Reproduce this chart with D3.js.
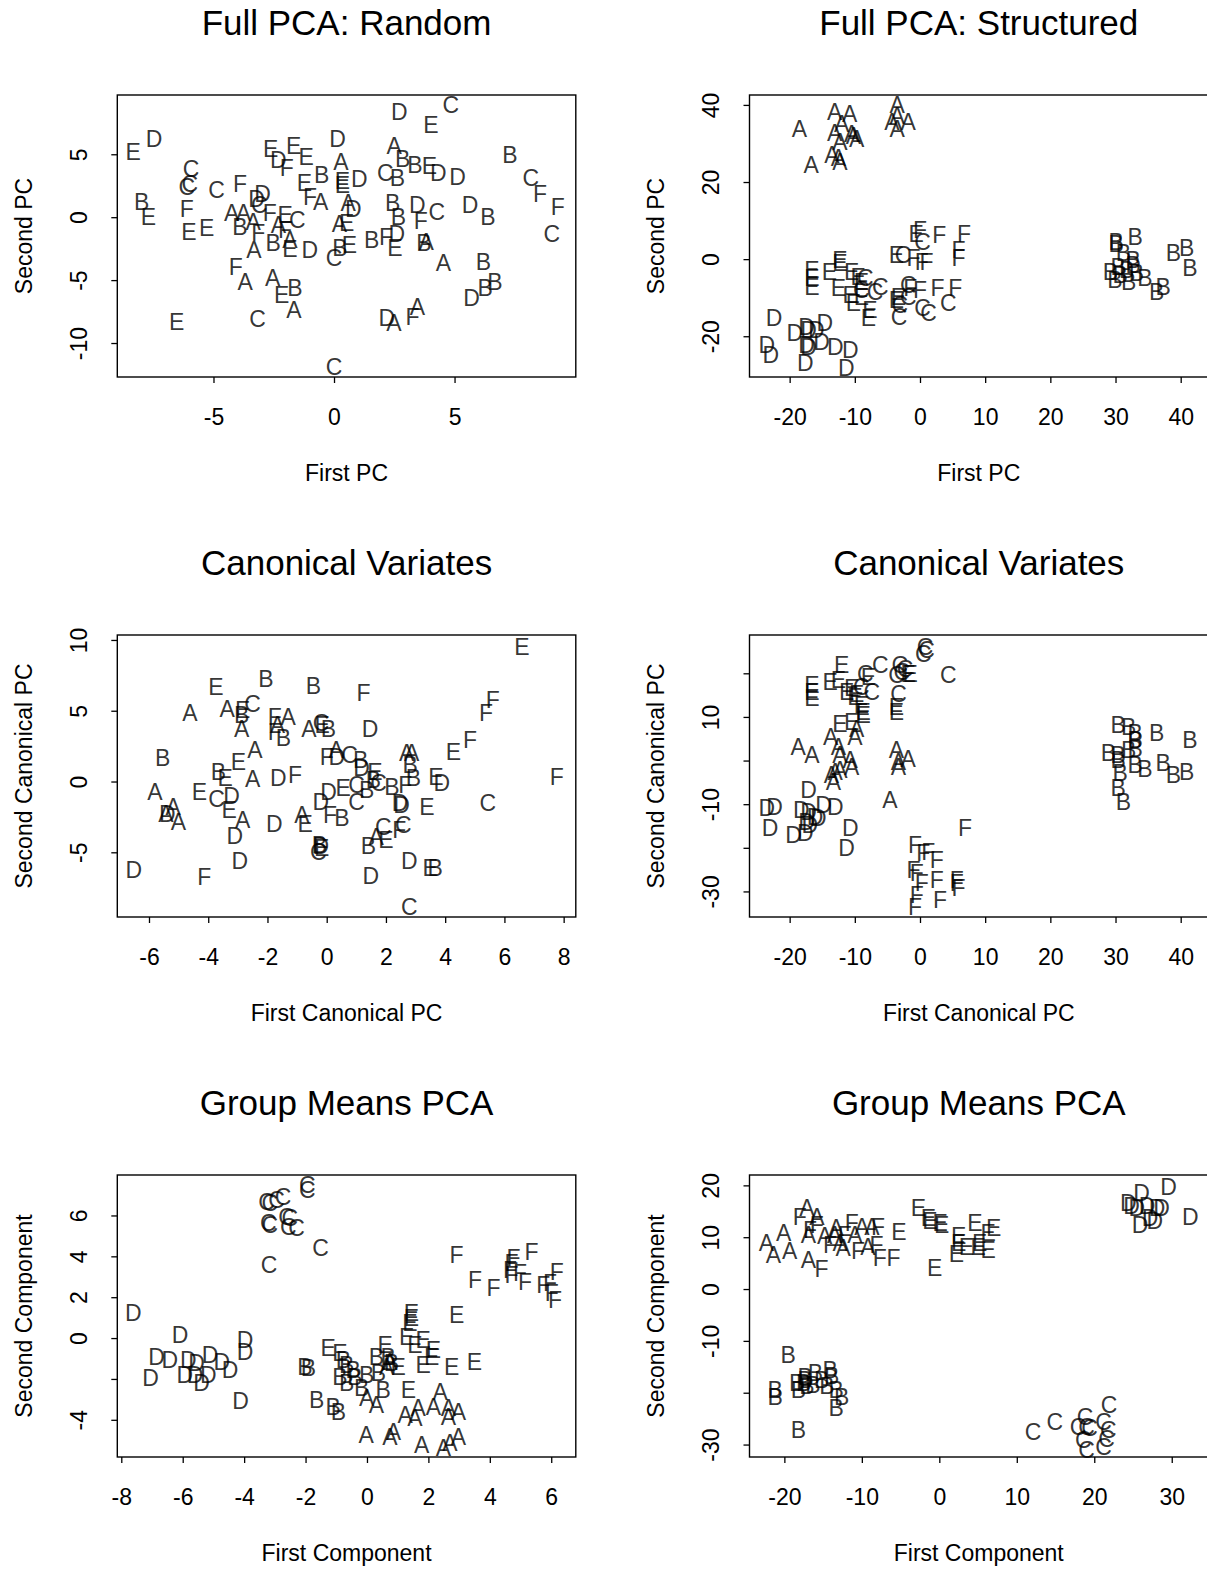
<!DOCTYPE html>
<html><head><meta charset="utf-8">
<script src="https://cdn.jsdelivr.net/npm/d3@7"></script>
<style>
body{margin:0;background:#fff}
svg{display:block}
text{font-family:"Liberation Sans",Arial,Helvetica,sans-serif}
</style>
</head><body>
<svg id="c" width="1207" height="1575"></svg>
<script>
// ---------- DATA (group letter, first axis value, second axis value) ----------
const fullRandom = [
["E",-8.33,5.21],["D",-7.47,6.27],["D",2.71,8.39],["C",4.84,8.92],["E",4.02,7.38],["D",0.15,6.27],
["A",2.50,5.66],["E",-2.63,5.48],["E",-1.67,5.66],["E",-1.16,4.81],["D",-2.31,4.55],["F",-1.96,3.97],
["A",0.29,4.42],["B",-0.51,3.36],["E",-1.23,2.70],["E",0.35,2.90],["E",0.35,2.55],["D",1.05,3.02],
["B",2.85,4.68],["B",3.36,4.15],["E",3.96,4.07],["D",4.33,3.54],["D",5.12,3.23],["C",2.13,3.54],
["B",2.63,3.10],["B",7.30,5.00],["C",8.16,3.10],["F",8.55,1.85],["F",9.28,0.85],["C",9.03,-1.35],
["C",-5.93,3.89],["C",-5.98,2.62],["C",-6.11,2.43],["C",-4.87,2.22],["F",-3.90,2.62],["D",-2.96,1.90],
["D",-3.21,1.50],["C",-3.10,0.98],["F",-1.00,1.64],["A",-0.55,1.24],["A",0.59,1.11],["D",0.80,0.71],
["B",-7.98,1.24],["E",-7.70,0.05],["F",-6.11,0.71],["E",-6.02,-1.14],["E",-5.28,-0.87],["A",-4.25,0.32],
["A",-3.76,0.32],["B",-3.90,-0.74],["A",-3.35,-0.34],["F",-2.66,0.32],["E",-2.03,0.19],["C",-1.52,-0.21],
["A",-2.31,-0.61],["F",-2.03,-1.00],["A",-1.83,-1.80],["E",-1.83,-2.54],["B",-2.52,-2.06],["F",-3.14,-1.27],
["A",-3.32,-2.59],["D",-1.00,-2.59],["A",0.22,-0.48],["E",0.53,-0.42],["C",0.00,-3.20],["B",0.25,-2.46],
["E",0.64,-2.20],["B",1.56,-1.80],["F",2.16,-1.53],["D",2.60,-1.32],["E",2.53,-2.46],["B",2.43,1.11],
["B",2.67,0.05],["D",3.46,0.98],["C",4.26,0.45],["F",3.60,-0.29],["A",3.82,-1.93],["B",3.73,-2.06],
["A",4.54,-3.65],["D",5.64,0.98],["B",6.38,0.05],["B",6.20,-3.57],["B",6.27,-5.63],["B",6.68,-5.16],
["D",5.71,-6.43],["F",-4.07,-3.92],["A",-3.69,-5.16],["A",-2.54,-4.84],["E",-2.17,-6.16],["B",-1.62,-5.63],
["A",-1.66,-7.35],["C",-3.17,-8.10],["E",-6.53,-8.28],["D",2.19,-7.96],["A",2.49,-8.36],["F",3.26,-7.88],
["A",3.46,-7.14],["C",0.00,-11.85]
];
const fullStructured = [
["A",-18.5,33.9],["A",-13.1,38.3],["A",-10.8,37.7],["A",-12.0,35.2],["A",-13.1,32.8],["A",-10.5,32.6],
["A",-9.7,31.3],["A",-12.3,30.5],["A",-13.5,27.0],["A",-12.5,26.2],["A",-12.3,25.3],["A",-16.7,24.4],
["A",-3.5,40.0],["A",-3.5,37.1],["A",-3.5,33.9],["A",-4.3,35.7],["A",-1.8,35.7],["A",-10.2,32.0],
["B",30.1,4.6],["B",30.1,4.0],["B",33.0,5.9],["B",31.2,1.55],["B",38.9,1.55],["B",40.9,2.85],
["B",41.4,-2.3],["B",29.2,-3.2],["B",30.4,-1.9],["B",30.7,-4.1],["B",31.7,-2.8],["B",32.7,-1.5],
["B",33.2,-3.6],["B",32.0,-5.8],["B",34.5,-4.9],["B",32.7,-0.2],["B",29.9,-5.4],["B",36.3,-8.4],["B",37.3,-7.1],
["E",-0.6,6.7],["F",0.0,7.6],["C",0.4,4.6],["F",2.97,6.3],["F",6.75,6.7],["F",5.9,2.4],["F",5.9,0.26],
["E",-3.6,1.1],["C",-2.6,1.1],["F",-1.0,0.26],["F",0.26,-0.6],["F",1.0,-0.6],
["E",-16.6,-2.8],["E",-16.6,-4.9],["E",-16.6,-7.1],["E",-13.9,-3.2],["E",-12.3,-0.2],["E",-12.3,-1.0],
["E",-10.5,-3.2],["E",-9.5,-4.5],["E",-9.0,-5.8],["C",-8.4,-4.9],["C",-6.1,-7.1],["C",-6.9,-8.4],
["E",-12.5,-7.5],["E",-10.7,-9.2],["E",-10.2,-11.4],["E",-9.0,-9.7],["E",-7.7,-13.1],["E",-7.9,-15.3],
["C",-9.0,-7.9],["E",-3.6,-10.5],["E",-3.3,-9.7],["C",-3.1,-11.8],["C",-3.2,-14.9],["C",-1.8,-6.6],
["F",-1.5,-7.5],["F",0.0,-7.9],["C",-1.8,-9.7],["F",2.7,-7.5],["F",5.4,-7.5],["C",0.4,-12.7],
["C",1.3,-14.0],["C",4.35,-11.4],
["D",-22.4,-15.3],["D",-23.5,-22.2],["D",-22.9,-24.8],["D",-19.2,-19.2],["D",-17.4,-17.4],["D",-17.1,-18.3],
["D",-17.4,-22.2],["D",-17.1,-22.6],["D",-15.9,-18.3],["D",-14.6,-16.6],["D",-15.1,-21.3],["D",-13.0,-22.6],
["D",-10.7,-23.5],["D",-17.6,-26.9],["D",-11.3,-28.2]
];
const canonRandom = [
["E",6.59,9.53],["E",-3.74,6.71],["B",-2.05,7.29],["B",-0.45,6.78],["F",1.24,6.24],["F",5.61,5.76],
["F",5.38,4.89],["A",-4.62,4.89],["A",-3.36,5.13],["B",-2.87,4.75],["C",-2.50,5.53],["E",-2.84,5.06],
["A",-2.87,3.76],["F",-1.75,4.59],["A",-1.30,4.59],["A",-1.66,4.00],["F",-1.75,3.53],["B",-1.46,3.06],
["A",-0.60,3.76],["C",-0.19,4.12],["E",-0.15,4.00],["B",0.06,3.72],["D",1.46,3.76],["F",4.84,2.94],
["E",4.28,2.12],["A",2.70,2.00],["A",2.87,2.00],["B",2.82,1.18],["B",2.93,0.24],["E",3.69,0.35],
["D",3.89,-0.12],["F",7.77,0.35],["C",5.44,-1.53],["B",-5.54,1.69],["A",-2.42,2.24],["E",-2.98,1.41],
["B",-3.66,0.71],["E",-3.43,0.24],["A",-2.50,0.19],["D",-1.63,0.24],["F",-1.07,0.47],["F",0.00,1.76],
["A",0.32,2.24],["D",0.34,1.76],["C",0.77,1.88],["B",1.15,1.53],["D",1.18,0.94],["E",1.63,0.71],
["B",1.58,0.12],["C",1.75,-0.12],["B",2.20,-0.35],["F",2.65,-0.24],["D",0.06,-0.71],["E",0.56,-0.42],
["C",1.01,-0.24],["B",1.35,-0.59],["C",1.01,-1.41],["D",-0.20,-1.41],["F",0.11,-2.35],["B",0.51,-2.54],
["D",2.48,-1.53],["D",2.53,-1.65],["E",3.38,-1.76],["A",-5.80,-0.71],["A",-5.18,-1.76],["D",-5.38,-2.24],
["A",-5.01,-2.82],["A",-5.43,-2.24],["E",-4.30,-0.71],["C",-3.72,-1.18],["D",-3.21,-0.99],["E",-3.29,-2.00],
["A",-2.84,-2.71],["D",-3.10,-3.81],["D",-1.77,-2.99],["A",-0.84,-2.35],["E",-0.73,-3.01],["B",-0.25,-4.47],
["E",-0.17,-4.71],["C",-0.28,-4.94],["D",-0.20,-4.50],["C",1.91,-3.18],["A",1.67,-3.88],["E",2.00,-4.12],
["F",2.45,-3.41],["C",2.59,-3.06],["B",1.41,-4.54],["D",2.79,-5.58],["E",3.49,-6.12],["B",3.66,-6.12],
["D",-2.93,-5.58],["D",1.49,-6.64],["D",-6.51,-6.24],["F",-4.13,-6.71],["C",2.79,-8.82]
];
const canonStructured = [
["C",0.77,26.1],["C",1.02,25.3],["C",0.51,24.5],["C",4.35,19.6],["C",-6.1,21.9],["C",-3.1,21.9],
["C",-2.3,21.1],["C",-3.6,19.6],["C",-2.8,20.4],["E",-1.8,20.0],["E",-1.5,20.0],["C",-8.4,20.0],
["E",-7.9,19.2],["E",-12.0,22.0],["E",-13.8,18.1],["E",-12.5,18.5],["E",-16.6,17.3],["E",-16.6,15.8],
["E",-16.6,14.3],["E",-11.25,15.8],["E",-10.5,16.6],["E",-9.7,15.4],["E",-10.0,14.7],["C",-9.0,16.9],
["C",-7.4,15.8],["E",-9.0,12.7],["E",-8.7,11.2],["E",-8.7,10.5],["C",-3.3,15.4],["E",-3.6,12.4],
["E",-3.6,11.2],["E",-12.3,8.5],["E",-10.5,8.9],
["A",-9.7,7.4],["A",-10.0,5.5],["A",-13.7,5.5],["A",-18.7,3.2],["A",-16.6,1.3],["A",-12.5,3.2],
["A",-12.3,1.3],["A",-10.7,0.15],["A",-10.5,-1.4],["A",-13.0,-2.5],["A",-13.3,-4.8],["A",-12.3,-2.1],
["A",-13.6,-3.3],["A",-3.6,2.4],["A",-3.3,-0.2],["A",-3.3,-1.4],["A",-1.8,0.5],["A",-4.6,-9.0],
["D",-17.1,-6.7],["D",-23.5,-10.9],["D",-22.3,-10.5],["D",-18.2,-11.3],["D",-17.1,-11.7],["D",-17.4,-14.0],
["D",-16.1,-12.8],["D",-14.8,-10.2],["D",-13.0,-10.5],["D",-15.6,-13.2],["D",-16.9,-14.7],["D",-23.0,-15.3],
["D",-19.4,-17.0],["D",-17.6,-16.6],["D",-10.7,-15.3],["D",-11.25,-19.9],
["B",30.4,8.2],["B",32.0,7.8],["B",33.0,6.3],["B",33.0,4.7],["B",36.3,6.3],["B",41.4,4.7],
["B",28.9,1.7],["B",30.4,1.3],["B",30.4,0.15],["B",32.0,2.4],["B",33.0,2.8],["B",33.0,-1.0],
["B",34.5,-1.8],["B",37.3,-0.6],["B",38.9,-3.3],["B",40.9,-2.5],["B",30.7,-2.9],["B",30.4,-6.3],["B",31.2,-9.4],
["F",6.9,-15.5],["F",-0.77,-19.3],["F",0.51,-21.2],["F",1.28,-20.8],["F",2.56,-22.7],["F",-1.0,-25.0],
["F",-0.5,-25.8],["F",0.26,-28.1],["F",2.56,-27.3],["F",5.63,-27.3],["F",5.63,-28.1],["F",5.9,-29.2],
["F",-0.5,-30.8],["F",-0.77,-33.4],["F",3.07,-31.9]
];
const meansRandom = [
["C",-1.94,7.50],["C",-1.94,7.26],["C",-3.27,6.69],["C",-3.16,6.61],["C",-2.94,6.77],["C",-2.73,6.93],
["C",-3.21,5.63],["C",-3.16,5.55],["C",-2.62,5.95],["C",-2.51,5.87],["C",-2.56,5.46],["C",-2.29,5.38],
["C",-1.51,4.40],["C",-3.19,3.59],
["F",2.92,4.08],["F",4.77,3.92],["F",4.71,3.67],["F",4.66,3.34],["F",4.71,3.10],["F",4.98,3.18],
["F",5.15,2.77],["F",5.36,4.24],["F",3.52,2.85],["F",4.12,2.45],["F",5.74,2.61],["F",5.96,2.69],
["F",6.18,3.26],["F",6.02,2.20],["F",6.12,1.88],
["E",2.92,1.14],["E",1.45,1.22],["E",1.45,0.98],["E",1.40,0.73],["E",1.29,0.08],["E",1.56,-0.33],
["E",1.83,-0.08],["E",2.16,-0.57],["E",2.11,-0.90],["E",1.83,-1.30],["E",2.76,-1.39],["E",3.50,-1.14],
["E",-1.26,-0.49],["E",-0.88,-0.73],["E",0.59,-0.33],["E",1.02,-1.39],["E",1.35,-2.53],
["D",-7.61,1.22],["D",-6.09,0.16],["D",-3.97,-0.08],["D",-3.97,-0.65],["D",-6.85,-0.90],["D",-6.42,-1.06],
["D",-5.82,-1.06],["D",-5.55,-1.22],["D",-5.11,-0.82],["D",-4.73,-1.14],["D",-4.46,-1.55],["D",-5.93,-1.79],
["D",-5.60,-1.79],["D",-5.17,-1.79],["D",-5.39,-2.20],["D",-7.05,-1.96],["D",-4.12,-3.05],
["B",-2.02,-1.39],["B",-1.91,-1.47],["B",-0.77,-1.06],["B",-0.66,-1.30],["B",-0.88,-1.88],["B",-0.66,-2.20],
["B",-0.39,-1.88],["B",-0.17,-2.45],["B",-0.01,-1.79],["B",0.31,-0.90],["B",0.69,-0.90],["B",0.37,-1.71],
["B",0.53,-2.53],["B",-0.45,-1.55],["B",0.80,-1.22],["B",-1.64,-3.02],["B",-1.10,-3.34],["B",-0.93,-3.59],
["A",-0.01,-2.94],["A",0.31,-3.26],["A",0.64,-1.39],["A",0.75,-1.14],["A",1.24,-3.75],["A",1.56,-3.92],
["A",1.67,-3.43],["A",2.16,-3.34],["A",2.38,-2.61],["A",2.65,-3.43],["A",2.65,-3.83],["A",2.98,-3.59],
["A",-0.03,-4.73],["A",0.75,-4.81],["A",0.86,-4.57],["A",1.78,-5.22],["A",2.49,-5.38],["A",2.70,-5.14],["A",2.98,-4.81]
];
const meansStructured = [
["A",-17.1,15.6],["A",-15.8,14.0],["F",-18.0,14.0],["A",-20.1,10.8],["A",-22.3,8.9],["A",-21.4,6.6],
["A",-19.3,7.3],["A",-16.9,5.7],["F",-15.2,3.9],["A",-16.9,10.5],["F",-16.7,11.5],["F",-15.8,12.4],
["A",-14.8,10.2],["A",-13.3,11.8],["A",-13.5,10.5],["A",-12.8,8.9],["A",-12.4,7.9],["F",-14.1,8.6],
["F",-12.2,10.5],["F",-11.3,12.7],["A",-10.9,10.5],["A",-10.0,12.1],["A",-8.7,12.1],["F",-7.9,12.1],
["A",-9.2,8.2],["F",-10.5,7.3],["F",-8.1,8.6],["F",-7.7,6.0],["F",-5.9,6.0],
["E",-5.2,11.1],["E",-2.7,15.6],["E",-1.4,13.7],["E",-1.2,13.1],["E",0.1,12.7],["E",0.3,12.4],
["E",2.5,10.2],["E",2.5,8.9],["E",2.2,6.9],["E",3.5,8.2],["E",4.6,12.7],["E",6.3,10.8],["E",7.0,11.8],
["E",5.2,8.9],["E",5.0,8.2],["E",6.3,7.6],["E",-0.6,4.1],
["D",26.1,18.5],["D",24.8,16.0],["D",24.4,16.6],["D",26.8,16.0],["D",28.1,15.6],["D",28.7,15.6],
["D",27.2,13.7],["D",27.8,13.1],["D",25.9,12.4],["D",29.6,19.8],["D",32.4,14.0],["D",25.5,15.6],
["B",-19.5,-12.7],["B",-21.2,-19.4],["B",-21.2,-20.7],["B",-18.4,-18.1],["B",-18.2,-19.4],["B",-17.3,-17.4],
["B",-17.1,-18.7],["B",-16.0,-16.1],["B",-16.3,-18.4],["B",-15.2,-17.4],["B",-14.5,-18.7],["B",-14.1,-15.5],
["B",-13.9,-16.8],["B",-13.3,-19.4],["B",-12.6,-20.7],["B",-13.3,-22.9],["B",-17.3,-16.9],["B",-17.5,-18.1],
["B",-18.2,-27.2],
["C",12.1,-27.5],["C",14.9,-25.5],["C",18.8,-24.6],["C",19.0,-26.5],["C",18.6,-29.1],["C",19.0,-31.0],
["C",21.9,-22.3],["C",21.2,-25.5],["C",21.8,-27.2],["C",21.6,-28.8],["C",21.2,-30.4],["C",17.9,-26.5],["C",19.4,-26.8]
];

// tick values and labels
const xTicksRandom = [-5,0,5];
const yTicksRandom = [-10,-5,0,5];
const xTicksStruct = [-20,-10,0,10,20,30,40];
const yTicksStruct = [-20,0,20,40];
const xTicksCanonR = [-6,-4,-2,0,2,4,6,8];
const yTicksCanonR = [-5,0,5,10];
const yTicksCanonS = [-30,-20,-10,0,10,20];
const yLabelsCanonS = ["-30","","-10","","10",""];
const xTicksMeansR = [-8,-6,-4,-2,0,2,4,6];
const yTicksMeansR = [-4,-2,0,2,4,6];
const yLabelsMeansR = ["-4","","0","2","4","6"];
const xTicksMeansS = [-20,-10,0,10,20,30];
const yTicksMeansS = [-30,-20,-10,0,10,20];
const yLabelsMeansS = ["-30","","-10","0","10","20"];

const panels = [
 {data:fullRandom, title:"Full PCA: Random", xlab:"First PC", ylab:"Second PC",
  xdom:[-8.99,10.03], ydom:[-12.70,9.71], xt:xTicksRandom, yt:yTicksRandom, col:0, row:0},
 {data:fullStructured, title:"Full PCA: Structured", xlab:"First PC", ylab:"Second PC",
  xdom:[-26.16,44.19], ydom:[-30.57,42.57], xt:xTicksStruct, yt:yTicksStruct, col:1, row:0},
 {data:canonRandom, title:"Canonical Variates", xlab:"First Canonical PC", ylab:"Second Canonical PC",
  xdom:[-7.07,8.41], ydom:[-9.57,10.35], xt:xTicksCanonR, yt:yTicksCanonR, col:0, row:1},
 {data:canonStructured, title:"Canonical Variates", xlab:"First Canonical PC", ylab:"Second Canonical PC",
  xdom:[-26.16,44.19], ydom:[-35.86,28.78], xt:xTicksStruct, yt:yTicksCanonS, yl:yLabelsCanonS, col:1, row:1},
 {data:meansRandom, title:"Group Means PCA", xlab:"First Component", ylab:"Second Component",
  xdom:[-8.13,6.80], ydom:[-5.82,7.98], xt:xTicksMeansR, yt:yTicksMeansR, yl:yLabelsMeansR, col:0, row:2},
 {data:meansStructured, title:"Group Means PCA", xlab:"First Component", ylab:"Second Component",
  xdom:[-24.5,34.68], ydom:[-32.4,22.0], xt:xTicksMeansS, yt:yTicksMeansS, yl:yLabelsMeansS, col:1, row:2}
];

// ---------- DRAW ----------
const svg = d3.select("#c");
svg.append("rect").attr("width",1207).attr("height",1575).attr("fill","#fff");
const colX = [117.3, 749.5], rowY = [95, 635, 1175], W = 458.5, H = 282;
const FS = 23;

panels.forEach(p => {
  const x0 = colX[p.col], y0 = rowY[p.row];
  const x = d3.scaleLinear().domain(p.xdom).range([x0, x0 + W]);
  const y = d3.scaleLinear().domain(p.ydom).range([y0 + H, y0]);
  const g = svg.append("g");

  // letters
  g.append("g").selectAll("text").data(p.data).join("text")
    .attr("x", d => x(d[1])).attr("y", d => y(d[2]))
    .attr("dy", "0.36em").attr("text-anchor", "middle")
    .attr("font-size", FS).attr("fill", "#000").attr("fill-opacity", 0.8)
    .text(d => d[0]);

  // box
  g.append("rect").attr("x", x0).attr("y", y0).attr("width", W).attr("height", H)
    .attr("fill", "none").attr("stroke", "#000").attr("stroke-width", 1.4);

  // x axis
  const xa = g.append("g").attr("transform", `translate(0,${y0 + H})`)
    .call(d3.axisBottom(x).tickValues(p.xt).tickSize(6).tickPadding(26).tickFormat(d => String(d)));
  xa.select(".domain").remove();
  xa.selectAll(".tick line").attr("stroke", "#000").attr("stroke-width", 1.3);
  xa.selectAll(".tick text").attr("font-size", FS).attr("fill", "#000")
    .attr("font-family", '"Liberation Sans",Arial,sans-serif');

  // y axis
  const ya = g.append("g").attr("transform", `translate(${x0},0)`)
    .call(d3.axisLeft(y).tickValues(p.yt).tickSize(6)
      .tickFormat((d, i) => p.yl ? p.yl[i] : String(d)));
  ya.select(".domain").remove();
  ya.selectAll(".tick line").attr("stroke", "#000").attr("stroke-width", 1.3);
  ya.selectAll(".tick text").attr("font-size", FS).attr("fill", "#000")
    .attr("font-family", '"Liberation Sans",Arial,sans-serif')
    .attr("transform", "rotate(-90)").attr("x", 0).attr("y", -39)
    .attr("dy", "0.36em").attr("text-anchor", "middle");

  // titles
  g.append("text").attr("x", x0 + W / 2).attr("y", y0 - 73).attr("dy", "0.36em")
    .attr("text-anchor", "middle").attr("font-size", 35).attr("fill", "#000").text(p.title);
  g.append("text").attr("x", x0 + W / 2).attr("y", y0 + H + 96).attr("dy", "0.36em")
    .attr("text-anchor", "middle").attr("font-size", FS).attr("fill", "#000").text(p.xlab);
  g.append("text").attr("transform", `translate(${x0 - 94},${y0 + H / 2}) rotate(-90)`)
    .attr("dy", "0.36em").attr("text-anchor", "middle").attr("font-size", FS)
    .attr("fill", "#000").text(p.ylab);
});
</script>
</body></html>
